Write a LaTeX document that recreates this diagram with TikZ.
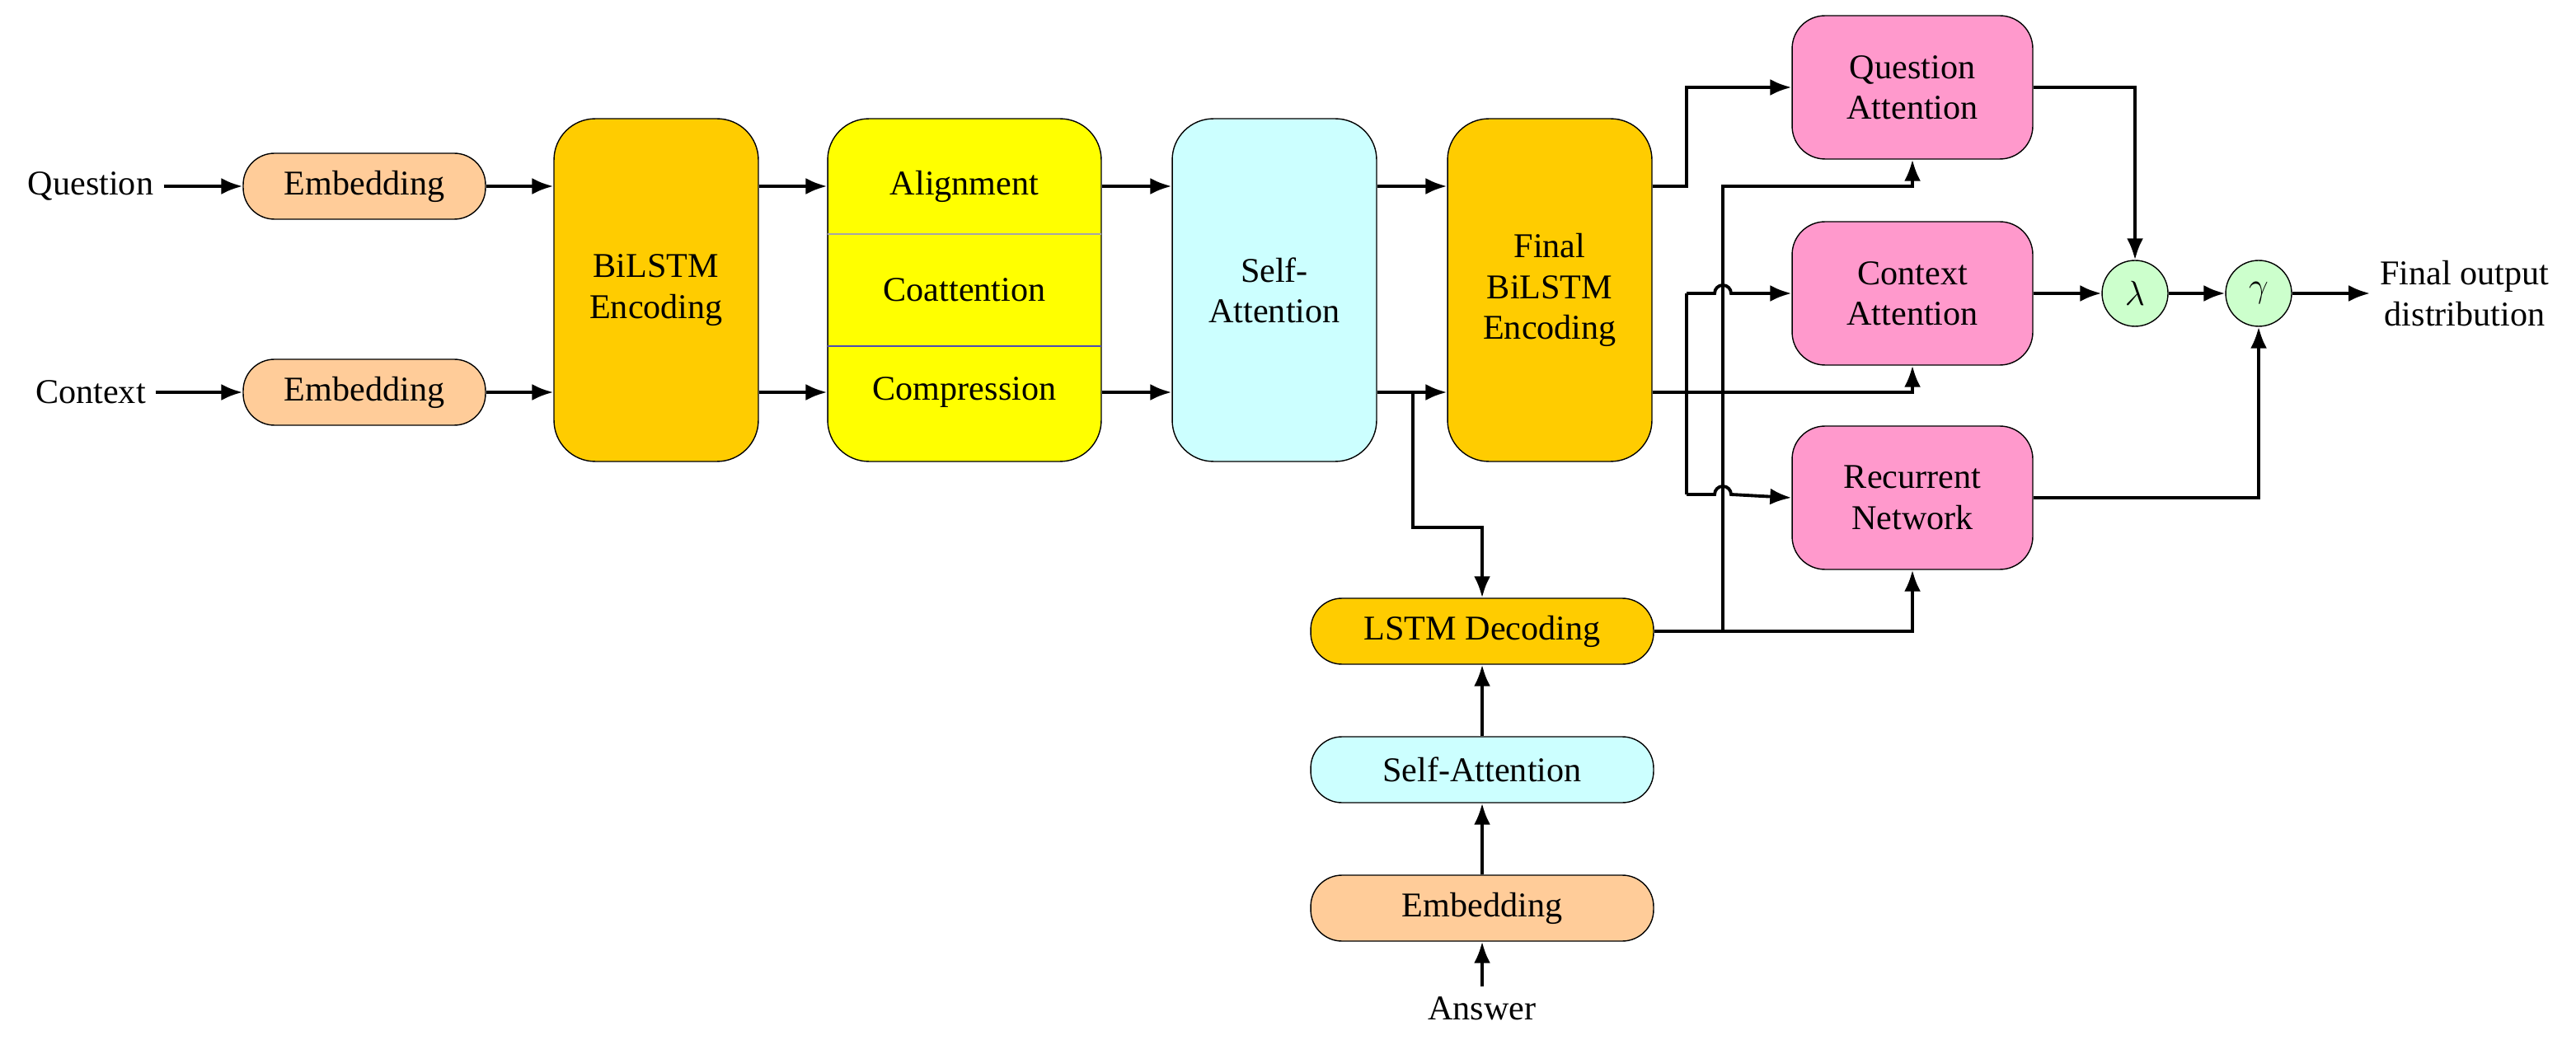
\documentclass[tikz,border=0pt]{standalone}
\usepackage{fontspec}
\setmainfont{Liberation Serif}
\usetikzlibrary{arrows.meta, positioning, calc}
\definecolor{embedorange}{RGB}{255, 204, 153}
\definecolor{lstmgold}{RGB}{255, 204, 0}
\definecolor{stackyellow}{RGB}{255, 255, 0}
\definecolor{attncyan}{RGB}{204, 255, 255}
\definecolor{outpink}{RGB}{255, 153, 204}
\definecolor{gatgreen}{RGB}{204, 255, 204}

\begin{document}
\begin{tikzpicture}[
    x=0.02cm, y=-0.02cm,
    font=\fontsize{12}{14}\selectfont,
    pill/.style={draw, rounded corners=0.38cm, minimum width=2.94cm, minimum height=0.8cm, align=center},
    tall/.style={draw, rounded corners=0.5cm, minimum width=2.48cm, minimum height=4.16cm, align=center},
    head/.style={draw, rounded corners=0.4cm, fill=outpink, minimum width=2.92cm, minimum height=1.74cm, align=center},
    gate/.style={draw, circle, fill=gatgreen, minimum size=0.8cm, inner sep=0pt},
    arrow/.style={-{Latex[length=2.6mm, width=2mm]}, line width=1.1pt},
    line/.style={line width=1.1pt}
]
    \useasboundingbox (0,0) rectangle (1562.5,631);
    % inputs
    \node (question) at (55,113) {Question};
    \node (context) at (55,238) {Context};
    \node[pill, fill=embedorange] (qemb) at (221,113) {Embedding};
    \node[pill, fill=embedorange] (cemb) at (221,238) {Embedding};
    \node[tall, fill=lstmgold] (bilstm) at (398,176) {BiLSTM\\Encoding};
    % alignment stack
    \node[tall, fill=stackyellow, minimum width=3.32cm] (stack) at (585,176) {};
    \draw[gray!70, thin] (502,142) -- (668,142);
    \draw[blue!40!gray, thin] (502,210) -- (668,210);
    \node (align) at (585,113) {Alignment};
    \node (coatt) at (585,176) {Coattention};
    \node (compr) at (585,238) {Compression};
    \node[tall, fill=attncyan] (selfattn) at (773,176) {Self-\\Attention};
    \node[tall, fill=lstmgold] (final) at (940,176) {Final\\BiLSTM\\Encoding};
    % heads
    \node[head] (qattn) at (1160,53) {Question\\Attention};
    \node[head] (cattn) at (1160,178) {Context\\Attention};
    \node[head] (recur) at (1160,302) {Recurrent\\Network};
    \node[gate] (lambda) at (1295,178) {$\lambda$};
    \node[gate] (gamma) at (1370,178) {$\gamma$};
    \node[align=center] (dist) at (1495,178) {Final output\\distribution};
    % decoder
    \node[pill, fill=lstmgold, minimum width=4.16cm] (dec) at (899,383) {LSTM Decoding};
    \node[pill, fill=attncyan, minimum width=4.16cm] (dattn) at (899,467) {Self-Attention};
    \node[pill, fill=embedorange, minimum width=4.16cm] (aemb) at (899,551) {Embedding};
    \node (answer) at (899,612) {Answer};

    \draw[arrow] (question) -- (qemb);
    \draw[arrow] (context) -- (cemb);
    \draw[arrow] (qemb) -- (qemb -| bilstm.west);
    \draw[arrow] (cemb) -- (cemb -| bilstm.west);
    \draw[arrow] (bilstm.east |- align) -- (stack.west |- align);
    \draw[arrow] (bilstm.east |- compr) -- (stack.west |- compr);
    \draw[arrow] (stack.east |- align) -- (selfattn.west |- align);
    \draw[arrow] (stack.east |- compr) -- (selfattn.west |- compr);
    \draw[arrow] (selfattn.east |- align) -- (final.west |- align);
    \draw[arrow] (selfattn.east |- compr) -- (final.west |- compr);
    \draw[arrow] (857,238) -- (857,320) -- (899,320) -- (dec.north);
    \draw[arrow] (answer) -- (aemb);
    \draw[arrow] (aemb) -- (dattn);
    \draw[arrow] (dattn) -- (dec);
    % final encoder outputs
    \draw[arrow] (final.east |- align) -- (1023,113) -- (1023,53) -- (qattn.west);
    \draw[arrow] (final.east |- compr) -- (1160,238) -- (cattn.south);
    \draw[line] (1023,178) -- (1023,300);
    \draw[arrow] (1023,178) -- (1040,178) arc[start angle=180, end angle=0, radius=0.1cm] -- (cattn.west);
    \draw[arrow] (1023,300) -- (1040,300) arc[start angle=180, end angle=0, radius=0.1cm] -- (recur.west);
    % decoder outputs
    \draw[arrow] (dec.east) -- (1160,383) -- (recur.south);
    \draw[arrow] (1045,383) -- (1045,113) -- (1160,113) -- (qattn.south);
    % gates
    \draw[arrow] (qattn.east) -- (1295,53) -- (lambda.north);
    \draw[arrow] (cattn.east) -- (lambda);
    \draw[arrow] (lambda) -- (gamma);
    \draw[arrow] (recur.east) -- (1370,302) -- (gamma.south);
    \draw[arrow] (gamma) -- (dist);
\end{tikzpicture}
\end{document}
